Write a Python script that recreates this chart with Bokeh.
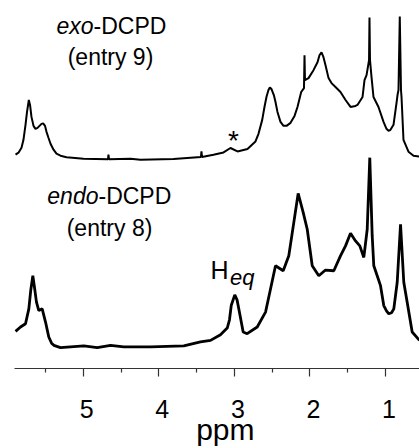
from bokeh.plotting import figure
from bokeh.models import Range1d, FixedTicker
from bokeh.core.properties import value
from bokeh.embed import file_html
from bokeh.resources import INLINE

# ---- data ----
exo_ppm = [5.897, 5.858, 5.818, 5.792, 5.765, 5.745, 5.721, 5.705, 5.686, 5.659,
           5.633, 5.606, 5.580, 5.553, 5.531, 5.507, 5.487, 5.461, 5.434, 5.394,
           5.355, 5.302, 5.222, 4.997, 4.680, 4.673, 4.667, 4.660, 4.375, 4.243,
           3.806, 3.443, 3.436, 3.429, 3.277, 3.144, 3.052, 2.959, 2.827, 2.721,
           2.681, 2.632, 2.602, 2.575, 2.549, 2.531, 2.509, 2.478, 2.456, 2.430,
           2.390, 2.350, 2.310, 2.257, 2.204, 2.165, 2.116, 2.079, 2.072, 2.066,
           2.019, 1.953, 1.900, 1.874, 1.847, 1.821, 1.794, 1.754, 1.715, 1.662,
           1.596, 1.529, 1.463, 1.397, 1.371, 1.304, 1.278, 1.251, 1.218, 1.212,
           1.205, 1.185, 1.159, 1.093, 1.026, 0.987, 0.960, 0.934, 0.894, 0.854,
           0.841, 0.828, 0.811, 0.795, 0.788, 0.762, 0.696, 0.629, 0.550]
exo_int = [5, 7, 12, 20, 35, 48, 60, 55, 43, 34,
           31, 32, 34, 36, 36.5, 34, 28, 22, 16, 10,
           6, 4, 2.5, 1, 0.5, 0.5, 5, 0.5, 1, 0,
           0.7, 2.7, 8.3, 2.7, 5, 7.3, 11.7, 8.3, 10.7, 18.3,
           26, 40, 53, 63.3, 70, 72.7, 71, 65, 58, 48,
           38, 34, 34, 37, 44, 53, 68, 72, 105, 80,
           82, 90, 98, 105, 108, 103, 95, 82, 77, 73,
           68, 60, 53, 54, 55, 63, 80, 85, 100, 143,
           100, 83, 63, 53, 38, 31, 29, 30, 35, 57,
           65, 70, 144, 70, 63, 20, 8, 4, 3]

endo_ppm = [5.897, 5.831, 5.765, 5.721, 5.695, 5.668, 5.645, 5.620, 5.589, 5.544,
            5.500, 5.457, 5.420, 5.390, 5.302, 4.993, 4.816, 4.640, 4.464, 4.110,
            3.670, 3.449, 3.316, 3.184, 3.095, 3.065, 3.042, 2.995, 2.965, 2.942,
            2.884, 2.831, 2.698, 2.588, 2.522, 2.456, 2.354, 2.280, 2.214, 2.156,
            2.089, 2.036, 1.970, 1.883, 1.794, 1.684, 1.596, 1.529, 1.463, 1.397,
            1.340, 1.287, 1.242, 1.208, 1.176, 1.155, 1.110, 1.066, 1.023, 0.987,
            0.956, 0.920, 0.890, 0.845, 0.801, 0.758, 0.713, 0.647, 0.550]
endo_int = [16.3, 20.7, 24, 39, 58, 72.3, 60, 45.7, 37.3, 39,
            25.7, 10.7, 4.5, 2.3, 0, 1.7, 0, 2.3, 0.7, 0.7,
            1.7, 5.7, 7.3, 13, 19.7, 28, 42.3, 53, 48, 39,
            15.7, 14, 20.7, 35.7, 59, 82.3, 77.3, 92.3, 125.7, 155,
            135.7, 119, 82.3, 72.3, 78, 77.3, 92.3, 102.3, 115, 107.3,
            102.3, 90.7, 119, 191, 112.3, 82.3, 72.3, 62.3, 42.3, 37,
            34, 35, 39, 65.7, 124, 65.7, 45.7, 15.7, 7.3]

major_ticks = [5, 4, 3, 2, 1]
minor_ticks = [5.5, 4.5, 3.5, 2.5, 1.5]
tick_labels = ["5", "4", "3", "2", "1"]

EXO_BASE = 210
ENDO_BASE = 21
FONT = "Liberation Sans"
DY = 10  # text baseline correction
NBSP = "\u00a0"

p = figure(width=419, height=448,
           x_range=Range1d(5.9107, 0.550), y_range=Range1d(0, 362),
           output_backend="svg", toolbar_location=None, y_axis_location=None,
           min_border_left=14, min_border_right=0, min_border_top=8, min_border_bottom=78)
p.outline_line_color = None
p.grid.visible = False
p.background_fill_color = "white"
p.border_fill_color = "white"

ax = p.xaxis[0]
ax.ticker = FixedTicker(ticks=major_ticks, minor_ticks=minor_ticks)
ax.major_label_overrides = {t: NBSP + s for t, s in zip(major_ticks, tick_labels)}
ax.major_tick_out = 8
ax.major_tick_in = 0
ax.minor_tick_out = 4
ax.minor_tick_in = 0
ax.axis_line_color = "#333333"
ax.major_tick_line_color = "#333333"
ax.minor_tick_line_color = "#333333"
ax.axis_line_width = 1.2
ax.major_tick_line_width = 1.2
ax.minor_tick_line_width = 1.2
ax.major_label_text_font = FONT
ax.major_label_text_font_size = "25px"
ax.major_label_text_color = "black"
ax.major_label_standoff = 18
ax.axis_label = NBSP + NBSP + "ppm"
ax.axis_label_text_font = FONT
ax.axis_label_text_font_size = "30px"
ax.axis_label_text_font_style = "normal"
ax.axis_label_text_color = "black"
ax.axis_label_standoff = -13

p.line(x=exo_ppm, y=[EXO_BASE + v for v in exo_int], line_width=2, line_color="black")
p.line(x=endo_ppm, y=[ENDO_BASE + v for v in endo_int], line_width=2.8, line_color="black")

def txt(x, y, s, size, style="normal", align="left"):
    p.text(x=[x], y=[y + DY], text=[s], text_font=value(FONT), text_font_size=size,
           text_font_style=style, text_align=align, text_baseline="alphabetic",
           text_color="black")

# exo label
txt(4.865, 334, "exo", "23px", "italic", "right")
txt(4.865, 334, "-DCPD", "23px", "normal", "left")
txt(4.640, 303, "(entry 9)", "23px", "normal", "center")
# endo label
txt(4.799, 163, "endo", "23px", "italic", "right")
txt(4.799, 163, "-DCPD", "23px", "normal", "left")
txt(4.653, 131.5, "(entry 8)", "23px", "normal", "center")
# H_eq
txt(3.316, 89.5, "H", "25px", "normal", "left")
txt(3.058, 82, "eq", "22px", "italic", "left")
# asterisk
txt(3.012, 219, "*", "28px", "normal", "center")

open("out.html", "w").write(file_html(p, INLINE))
